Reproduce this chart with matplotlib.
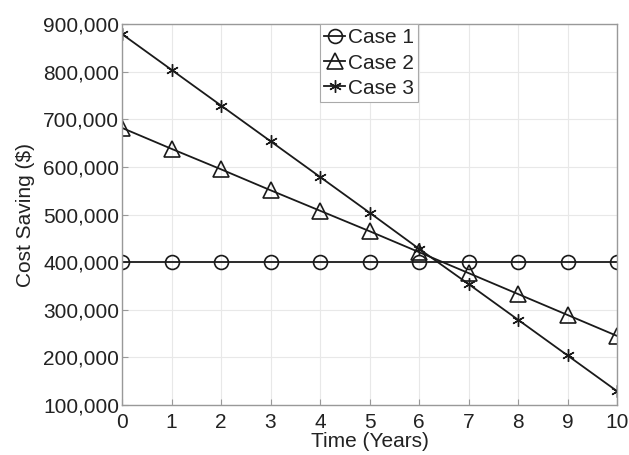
import numpy as np
import matplotlib
matplotlib.use('Agg')
import matplotlib.pyplot as plt
from matplotlib.ticker import FuncFormatter
plt.rc('font', family='Liberation Sans', size=15)

years = [0, 1, 2, 3, 4, 5, 6, 7, 8, 9, 10]
case1 = [400000, 400000, 400000, 400000, 400000, 400000, 400000, 400000, 400000, 400000, 400000]
case2 = [682000, 638000, 595000, 551000, 508000, 465000, 421000, 377000, 333000, 289000, 245000]
case3 = [879000, 804000, 729000, 654000, 579000, 504000, 428000, 354000, 279000, 204000, 129000]
labels = ['Case 1', 'Case 2', 'Case 3']

fig = plt.figure(figsize=(6.29, 4.55), dpi=100)
ax = fig.add_axes([0.194, 0.110, 0.787, 0.837])

lc = '#1a1a1a'
ax.plot(years, case1, color=lc, lw=1.3, marker='o', ms=10, mfc='none', mec=lc, mew=1.2, label=labels[0])
ax.plot(years, case2, color=lc, lw=1.3, marker='^', ms=11, mfc='none', mec=lc, mew=1.2, label=labels[1])
ax.plot(years, case3, color=lc, lw=1.3, marker=(6, 2, 0), ms=9, mfc='none', mec=lc, mew=1.0, label=labels[2])

ax.set_xlim(0, 10)
ax.set_ylim(100000, 900000)
ax.set_xticks(years)
ax.set_yticks(np.arange(100000, 900001, 100000))
ax.yaxis.set_major_formatter(FuncFormatter(lambda v, p: f'{int(v):,}'))
ax.grid(True, color='#e8e8e8', lw=0.8)
ax.tick_params(direction='in', length=4, color='#999999', labelcolor='#222222')
ax.tick_params(axis='y', pad=2)
ax.tick_params(axis='x', pad=6)
for s in ax.spines.values():
    s.set_color('#999999')
    s.set_linewidth(1.0)

ax.set_xlabel('Time (Years)', color='#222222', labelpad=0)
ax.set_ylabel('Cost Saving ($)', color='#222222', labelpad=6)

leg = ax.legend(loc='upper left', bbox_to_anchor=(0.4, 1.0), borderaxespad=0, fancybox=False,
                handlelength=1.0, handletextpad=0.15, borderpad=0.2, labelspacing=0.3, framealpha=1)
leg.get_frame().set_edgecolor('#aaaaaa')
leg.get_frame().set_linewidth(0.8)
for t in leg.get_texts():
    t.set_color('#222222')

fig.savefig('out.png', dpi=100)
